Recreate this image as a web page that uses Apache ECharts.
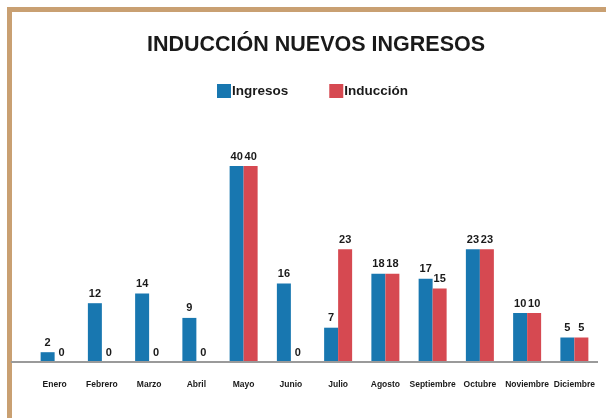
<!DOCTYPE html>
<html>
<head>
<meta charset="utf-8">
<script src="https://cdn.jsdelivr.net/npm/echarts@6/dist/echarts.min.js"></script>
<style>
  html, body { margin: 0; padding: 0; background: #ffffff; }
  #chart { width: 606px; height: 418px; }
</style>
</head>
<body>
<div id="chart"></div>
<script>
// Monthly counts: new hires vs. those who completed induction
const months = ['Enero', 'Febrero', 'Marzo', 'Abril', 'Mayo', 'Junio', 'Julio', 'Agosto', 'Septiembre', 'Octubre', 'Noviembre', 'Diciembre'];
const ingresos = [2, 12, 14, 9, 40, 16, 7, 18, 17, 23, 10, 5];
const induccion = [0, 0, 0, 0, 40, 0, 23, 18, 15, 23, 10, 5];

const sans = "'Liberation Sans', Arial, sans-serif";
const BORDER = '#c9a072';
const BLUE = '#1877b0';
const RED = '#d64951';

const chart = echarts.init(document.getElementById('chart'), null, { renderer: 'canvas' });

const valueLabel = {
  show: true,
  position: 'top',
  distance: 4,
  color: '#1a1a1a',
  fontFamily: sans,
  fontWeight: 'bold',
  fontSize: 11
};

chart.setOption({
  backgroundColor: '#ffffff',
  animation: false,
  title: {
    text: 'INDUCCIÓN NUEVOS INGRESOS',
    left: 311,
    top: 29,
    textAlign: 'center',
    textStyle: {
      fontFamily: sans,
      fontWeight: 'bold',
      fontSize: 21.5,
      color: '#1a1a1a'
    }
  },
  legend: {
    top: 79,
    left: 212,
    itemGap: 41,
    itemWidth: 14,
    itemHeight: 14,
    icon: 'rect',
    textStyle: {
      fontFamily: sans,
      fontWeight: 'bold',
      fontSize: 13.5,
      color: '#1a1a1a',
      padding: [0, 0, 0, -4]
    },
    data: ['Ingresos', 'Inducción']
  },
  grid: {
    left: 31,
    right: 8,
    top: 166,
    bottom: 56
  },
  xAxis: {
    type: 'category',
    data: months,
    axisLine: { show: false },
    axisTick: { show: false },
    axisLabel: {
      interval: 0,
      margin: 18,
      fontFamily: sans,
      fontWeight: 'bold',
      fontSize: 8.5,
      color: '#1a1a1a'
    }
  },
  yAxis: {
    type: 'value',
    min: 0,
    max: 40,
    show: false,
    splitLine: { show: false }
  },
  series: [
    {
      name: 'Ingresos',
      type: 'bar',
      data: ingresos,
      barWidth: 14,
      barGap: '0%',
      itemStyle: { color: BLUE },
      label: valueLabel
    },
    {
      name: 'Inducción',
      type: 'bar',
      data: induccion,
      barWidth: 14,
      barGap: '0%',
      itemStyle: { color: RED },
      label: valueLabel
    }
  ],
  graphic: [
    // frame strips along the top and left edges
    { type: 'rect', shape: { x: 7, y: 7, width: 599, height: 5 }, style: { fill: BORDER }, z: 10 },
    { type: 'rect', shape: { x: 7, y: 7, width: 5, height: 411 }, style: { fill: BORDER }, z: 10 },
    // baseline under the bars
    { type: 'rect', shape: { x: 11, y: 361, width: 587, height: 2 }, style: { fill: '#9a9a9a' }, z: 10 }
  ]
});
</script>
</body>
</html>
